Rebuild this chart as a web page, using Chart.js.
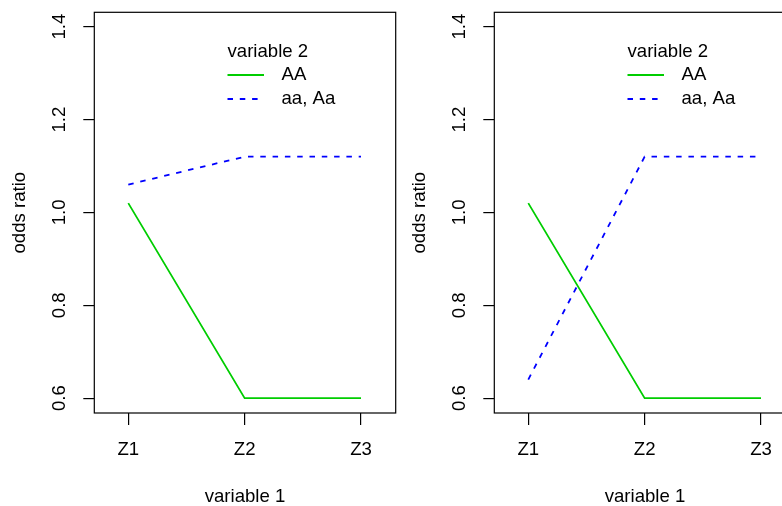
<!DOCTYPE html>
<html>
<head>
<meta charset="utf-8">
<script src="https://cdn.jsdelivr.net/npm/chart.js@4/dist/chart.umd.min.js"></script>
<style>
  html, body { margin: 0; padding: 0; background: #fff; width: 782px; height: 506px; overflow: hidden; }
  #wrap { position: relative; width: 782px; height: 506px; overflow: hidden; }
  canvas { position: absolute; top: 0; }
  #c1 { left: 0; }
  #c2 { left: 400px; }
</style>
</head>
<body>
<div id="wrap">
  <canvas id="c1" width="400" height="506"></canvas>
  <canvas id="c2" width="400" height="506"></canvas>
</div>
<script>
// ---- data ----
const categories = ["Z1", "Z2", "Z3"];
const seriesNames = ["AA", "aa, Aa"];
const legendTitle = "variable 2";
const xTitle = "variable 1";
const yTitle = "odds ratio";
const yTicks = [0.6, 0.8, 1.0, 1.2, 1.4];
const yTickLabels = ["0.6", "0.8", "1.0", "1.2", "1.4"];
// left panel
const leftAA = [1.02, 0.60, 0.60];
const leftAa = [1.06, 1.12, 1.12];
// right panel
const rightAA = [1.02, 0.60, 0.60];
const rightAa = [0.64, 1.12, 1.12];

const FONT = "'Liberation Sans', Arial, Helvetica, sans-serif";
const FS = 18.6;
const GREEN = "#00CD00";
const BLUE = "#0000FF";

function toPts(arr) { return arr.map((v, i) => ({ x: i + 1, y: v })); }

const panelPlugin = {
  id: 'panelPlugin',
  afterDraw(chart) {
    const ctx = chart.ctx;
    const a = chart.chartArea;
    const ys = chart.scales.y;
    ctx.save();
    // box
    ctx.strokeStyle = '#000';
    ctx.lineWidth = 1.2;
    ctx.strokeRect(a.left, a.top, a.right - a.left, a.bottom - a.top);
    // rotated y tick labels
    ctx.fillStyle = '#000';
    ctx.font = FS + 'px ' + FONT;
    ctx.textAlign = 'center';
    ctx.textBaseline = 'middle';
    yTicks.forEach((t, i) => {
      const py = ys.getPixelForValue(t);
      ctx.save();
      ctx.translate(60, py);
      ctx.rotate(-Math.PI / 2);
      ctx.fillText(yTickLabels[i], 0, 0);
      ctx.restore();
    });
    // legend
    const lx0 = 227.5, lx1 = 264, tx = 281.5;
    ctx.textAlign = 'left';
    ctx.fillText(legendTitle, lx0, 52);
    const ds = chart.data.datasets;
    const rows = [75, 99];
    ds.forEach((d, i) => {
      ctx.beginPath();
      ctx.strokeStyle = d.borderColor;
      ctx.lineWidth = d.borderWidth;
      ctx.setLineDash(d.borderDash || []);
      ctx.moveTo(lx0, rows[i]);
      ctx.lineTo(lx1, rows[i]);
      ctx.stroke();
      ctx.setLineDash([]);
      ctx.fillText(d.label, tx, rows[i]);
    });
    ctx.restore();
  }
};

function makeChart(id, aa, aA) {
  return new Chart(document.getElementById(id), {
    type: 'line',
    data: {
      datasets: [
        { label: seriesNames[0], data: toPts(aa), borderColor: GREEN, borderWidth: 1.8, pointRadius: 0, fill: false, tension: 0 },
        { label: seriesNames[1], data: toPts(aA), borderColor: BLUE, borderWidth: 1.8, borderDash: [5.5, 6.8], pointRadius: 0, fill: false, tension: 0 }
      ]
    },
    options: {
      responsive: false,
      animation: false,
      devicePixelRatio: 1,
      layout: { padding: { top: 12.3, right: 4.3, left: 0, bottom: 0 } },
      plugins: { legend: { display: false }, tooltip: { enabled: false }, title: { display: false } },
      scales: {
        x: {
          type: 'linear',
          min: 0.708, max: 3.298,
          afterBuildTicks: (s) => { s.ticks = categories.map((c, i) => ({ value: i + 1 })); },
          afterFit: (s) => { s.height = 93; },
          ticks: {
            callback: (v) => categories[Math.round(v) - 1] || '',
            color: '#000', font: { family: FONT, size: FS }, padding: 14, maxRotation: 0, autoSkip: false
          },
          grid: { drawOnChartArea: false, drawTicks: true, tickLength: 12, color: '#000', lineWidth: 1.2 },
          border: { display: false },
          title: { display: true, text: xTitle, color: '#000', font: { family: FONT, size: FS, lineHeight: 1 }, padding: { top: 0, bottom: 0 } }
        },
        y: {
          type: 'linear',
          min: 0.568, max: 1.431,
          afterBuildTicks: (s) => { s.ticks = yTicks.map(v => ({ value: v })); },
          afterFit: (s) => { s.width = 94.3; },
          ticks: { display: false },
          grid: { drawOnChartArea: false, drawTicks: true, tickLength: 11, color: '#000', lineWidth: 1.2 },
          border: { display: false },
          title: { display: true, text: yTitle, color: '#000', font: { family: FONT, size: FS, lineHeight: 1 }, padding: { top: 11, bottom: 0 } }
        }
      }
    },
    plugins: [panelPlugin]
  });
}

makeChart('c1', leftAA, leftAa);
makeChart('c2', rightAA, rightAa);
</script>
</body>
</html>
